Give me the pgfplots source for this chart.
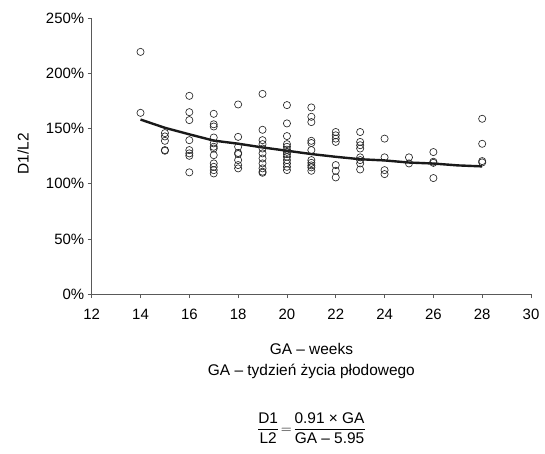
\documentclass[border=0pt]{standalone}
\usepackage{amsmath}
\usepackage{fontspec}
\setmainfont{Liberation Sans}
\usepackage{pgfplots}
\pgfplotsset{compat=1.18}

\begin{document}
\begin{tikzpicture}
% page frame, 1 px of the reference = 1 bp
\path[use as bounding box] (-91.7bp,-160bp) rectangle (453.3bp,294bp);
\begin{axis}[
  at={(0,0)}, anchor=south west,
  scale only axis, width=439.3bp, height=275.5bp,
  xmin=12, xmax=30, ymin=0, ymax=250,
  xtick={12,14,...,30}, ytick={0,50,...,250},
  yticklabels={0\%,50\%,100\%,150\%,200\%,250\%},
  axis x line*=bottom, axis y line*=left,
  axis line style={black!65, line width=0.8bp},
  tick style={black!65, line width=0.8bp},
  tick align=outside, major tick length=4bp,
  tick label style={font=\fontsize{15}{17}\selectfont},
  /pgf/number format/assume math mode=true,
  xticklabel style={yshift=-8bp},
  clip=false,
]
% measured values
\addplot[only marks, mark=o, mark size=3.6bp, mark options={line width=0.65bp}, black!85]
  coordinates {
  (14,219.7)(14,164.4)
  (15,146)(15,143)(15,139)(15,130.6)(15,130)
  (16,179.8)(16,165)(16,157.8)(16,139.6)(16,130.6)(16,127.6)(16,125.4)(16,110.4)
  (17,163.5)(17,154)(17,152)(17,142)(17,136.7)(17,133.6)(17,132)(17,126)(17,118.5)(17,115.4)(17,112.4)(17,109.4)
  (18,172)(18,142.6)(18,133.6)(18,128)(18,127)(18,121.5)(18,117)(18,114)
  (19,181.6)(19,149)(19,139.6)(19,136)(19,132)(19,127.6)(19,123)(19,118.5)(19,114)(19,111)(19,110)
  (20,171.4)(20,154.8)(20,143.3)(20,136)(20,133.6)(20,131)(20,129)(20,127)(20,124.5)(20,121.5)(20,118.5)(20,115.4)(20,112.4)
  (21,169.3)(21,160.8)(21,156)(21,139)(21,137)(21,130.6)(21,121.5)(21,119)(21,116.7)(21,114.9)(21,111.8)
  (22,147)(22,144)(22,141)(22,138)(22,117)(22,111.8)(22,105.8)
  (23,147)(23,138)(23,135)(23,132)(23,124)(23,121.5)(23,118.5)(23,113)
  (24,141)(24,124)(24,112.4)(24,108.8)
  (25,124)(25,118.5)
  (26,128.8)(26,120)(26,119)(26,105.2)
  (28,159)(28,136.3)(28,120.6)(28,119.4)
  };
% fitted curve
\addplot[black!90, line width=2.4bp, no marks]
  coordinates {(14,158.3)(15,150.8)(16,144.9)(17,139.2)(18,136.4)(19,133)(20,130)(21,127)(22,124.5)(23,122.3)(24,121.2)(25,119.3)(26,118.4)(27,116.7)(28,115.8)};
\end{axis}
\node[rotate=90, font=\fontsize{15.5}{18}\selectfont] at (-68.7bp,140bp) {D1/L2};
\node[anchor=base, font=\fontsize{15.5}{18}\selectfont] at (219.7bp,-60bp) {GA – weeks};
\node[anchor=base, font=\fontsize{15.5}{18}\selectfont] at (219.7bp,-81bp) {GA – tydzień życia płodowego};
\node[font=\fontsize{15.5}{18}\selectfont] at (219.7bp,-134bp)
  {$\dfrac{\text{D1}}{\text{L2}}\!=\!\dfrac{\text{0.91 × GA}}{\text{GA – 5.95}}$};
\end{tikzpicture}
\end{document}
